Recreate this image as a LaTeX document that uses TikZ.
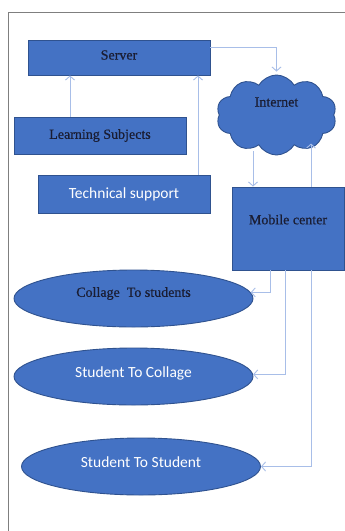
\documentclass[tikz,border=0pt]{standalone}
\usepackage{fontspec}
\setmainfont{Liberation Serif}
\newfontfamily\heavyserif{Liberation Serif}[FakeBold=0.6]
\newfontfamily\calibrilike{Carlito}
\usetikzlibrary{shapes.geometric,shapes.symbols,arrows.meta}
\definecolor{boxfill}{HTML}{4472C4}
\definecolor{boxline}{HTML}{2F528F}
\definecolor{linkcol}{HTML}{A8BEE8}
\definecolor{darktext}{HTML}{1A1D33}
\definecolor{framecol}{HTML}{7F7F7F}
\tikzset{
  box/.style={draw=boxline, fill=boxfill, line width=0.9pt, inner sep=0pt},
  serifl/.style={font=\heavyserif\fontsize{14}{16}\selectfont, text=darktext},
  sansl/.style={font=\calibrilike\fontsize{15.5}{18}\selectfont, text=white},
  oval/.style={box, ellipse, minimum width=239pt, minimum height=57pt},
  conn/.style={draw=linkcol, line width=0.9pt, -{Straight Barb[length=4pt,width=9pt,line width=0.9pt]}}
}
\begin{document}
\begin{tikzpicture}[x=1pt,y=-1pt]
\useasboundingbox (0,0) rectangle (345,531);
\fill[white] (0,0) rectangle (345,531);
% page frame
\draw[framecol, line width=1pt] (345,12) -- (8,12) -- (8,531);

% rectangular blocks
\node[box, minimum width=182pt, minimum height=35pt,
      label={[serifl, yshift=2.5pt]center:Server}] (server) at (119,57.5) {};
\node[box, serifl, minimum width=172pt, minimum height=37pt] (ls) at (100,135.5) {Learning Subjects};
\node[box, sansl, minimum width=172pt, minimum height=38pt] (ts) at (124,194) {Technical support};
\node[box, minimum width=112pt, minimum height=83pt,
      label={[serifl, yshift=9pt]center:Mobile center}] (mc) at (288,228.5) {};

% cloud
\node[box, cloud, cloud puffs=10, cloud puff arc=120, aspect=1.5,
      minimum width=120pt, minimum height=80pt,
      label={[serifl, yshift=13pt]center:Internet}] (net) at (276.5,115) {};

% ovals, captions sit a little above centre
\node[oval, label={[serifl, yshift=5pt]center:Collage\ \ To students}] (e1) at (133.5,298.5) {};
\node[oval, label={[sansl, yshift=3.5pt]center:Student To Collage}] (e2) at (133.5,376.5) {};
\node[oval, label={[sansl, yshift=4.5pt]center:Student To Student}] (e3) at (141,466.5) {};

% connectors
\coordinate (srvout) at (210,47);
\coordinate (netdown) at (253,151);
\draw[conn] ([xshift=-30pt]ls.north) -- ([xshift=-30pt]ls.north |- server.south);
\draw[conn] ([xshift=74pt]ts.north) -- ([xshift=74pt]ts.north |- server.south);
\draw[conn] (srvout) -| ([yshift=3pt]net.north);
\draw[conn] (netdown) -- (netdown |- mc.north);
\draw[conn] ([xshift=23pt]mc.north) -- ++(0,-43);
\draw[conn] ([xshift=-18pt]mc.south) |- (e1.3);
\draw[conn] ([xshift=-3pt]mc.south) |- (e2.1);
\draw[conn] ([xshift=23pt]mc.south) |- (e3.0);
\end{tikzpicture}
\end{document}
